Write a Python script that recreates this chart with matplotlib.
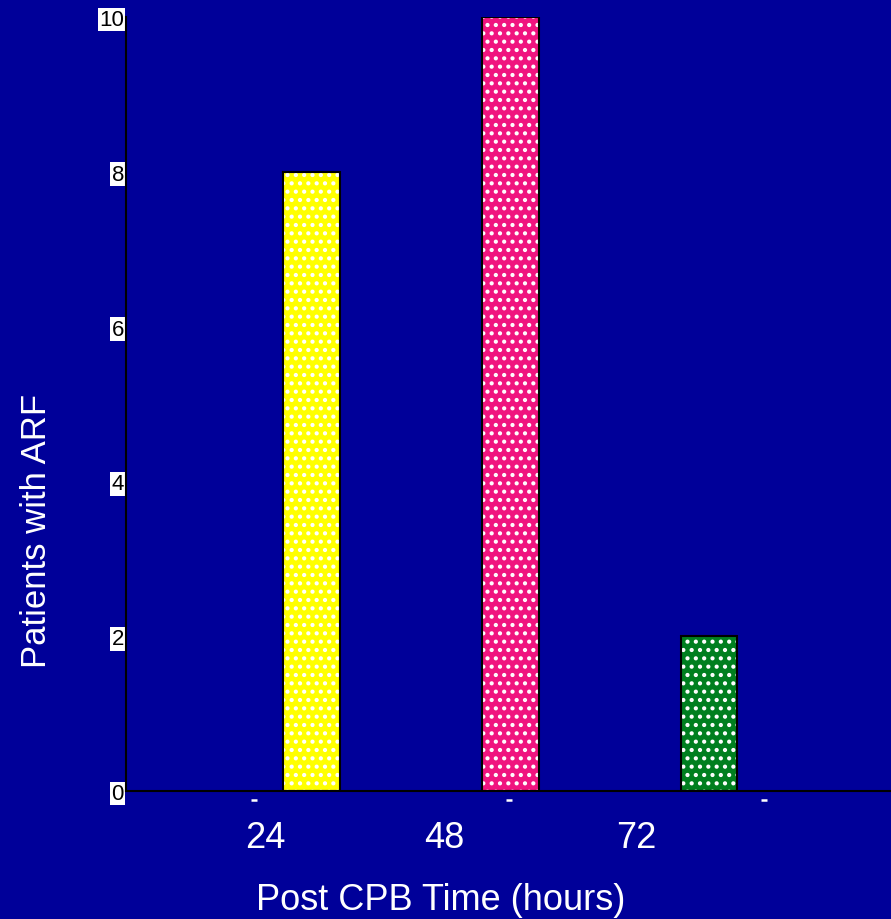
import matplotlib

matplotlib.use("Agg")
import matplotlib.pyplot as plt

hours = ["24", "48", "72"]
patients = [8, 10, 2]
bar_colors = ["#FFFF00", "#F0147F", "#007F1F"]
y_ticks = [0, 2, 4, 6, 8, 10]

bg = "#000099"
plt.rcParams["font.family"] = ["Liberation Sans", "DejaVu Sans"]
plt.rcParams["hatch.linewidth"] = 1.8

fig = plt.figure(figsize=(8.91, 9.2), dpi=100, facecolor=bg)
ax = fig.add_axes([126 / 891, 1 - 792 / 920, 1 - 126 / 891, (792 - 18) / 920])
ax.set_facecolor(bg)

x = list(range(len(hours)))
# white dotted fill, then a thin black outline on top
ax.bar(x, patients, width=0.284, color=bar_colors, edgecolor="white",
       linewidth=0, hatch="..", zorder=2)
ax.bar(x, patients, width=0.284, fill=False, edgecolor="black",
       linewidth=1.5, zorder=3)

ax.set_xlim(-0.932, 2.914)
ax.set_ylim(0, 10)

for side in ["top", "right"]:
    ax.spines[side].set_visible(False)
for side in ["left", "bottom"]:
    ax.spines[side].set_color("black")
    ax.spines[side].set_linewidth(1.5)

ax.set_xticks([])
ax.set_yticks(y_ticks)
ax.tick_params(axis="y", length=0, pad=1.5, labelsize=16, labelcolor="black")
for lab in ax.get_yticklabels():
    lab.set_bbox(dict(facecolor="white", edgecolor="none", pad=1.0))

# small category marks under the baseline
ax.plot([1 / 6, 1 / 2, 5 / 6], [-0.012] * 3, linestyle="none", marker="_",
        markersize=4, markeredgewidth=1.8, color="white",
        transform=ax.transAxes, clip_on=False)

for label, xpos in zip(hours, [0.182, 0.416, 0.667]):
    ax.text(xpos, -0.06, label, transform=ax.transAxes, ha="center",
            va="center", fontsize=26, color="white")

fig.text(441 / 891, 1 - 901 / 920, "Post CPB Time (hours)", ha="center",
         va="center", fontsize=26, color="white")
fig.text(37 / 891, 1 - 531 / 920, "Patients with ARF", ha="center",
         va="center", rotation=90, fontsize=25, color="white")

fig.savefig("out.png", dpi=100, facecolor=bg)
